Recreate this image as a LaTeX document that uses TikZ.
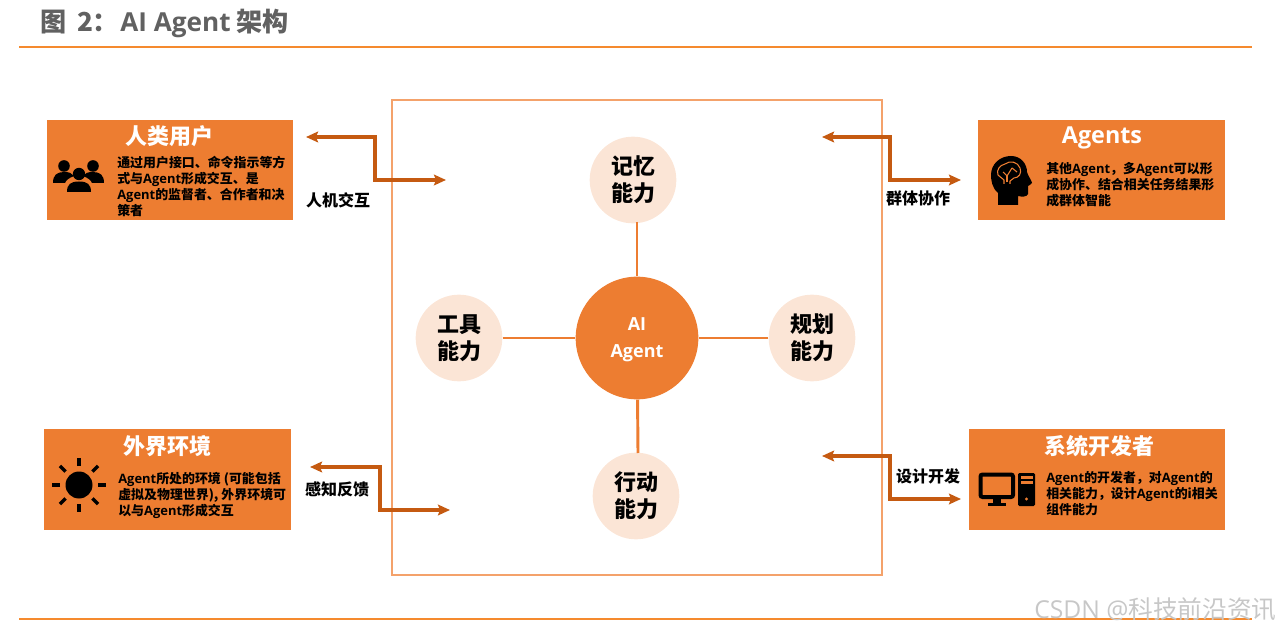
\documentclass[tikz,border=0pt]{standalone}
\usepackage{xcolor}
\usepackage{fontspec}
\usetikzlibrary{arrows.meta}
\setmainfont{Noto Sans CJK SC}
\newfontfamily\opensans{Open Sans}
\newcommand{\Ag}{{\opensans\bfseries Agent}}
\definecolor{boxorange}{HTML}{ED7D31}
\definecolor{linkbrown}{HTML}{C55A11}
\definecolor{ruleorange}{HTML}{F58A2E}
\definecolor{framepeach}{HTML}{F4A26B}
\definecolor{softpeach}{HTML}{FBE5D6}
\tikzset{
  infobox/.style={fill=boxorange, draw=none, inner sep=0},
  boxhead/.style={text=white, font=\fontsize{16.5}{18}\selectfont\bfseries},
  boxtext/.style={anchor=west, align=left, inner sep=0, font=\fontsize{9.7}{12}\selectfont\bfseries},
  ability/.style={circle, fill=softpeach, minimum size=65pt, inner sep=0, align=center,
    font=\fontsize{16.5}{20}\selectfont\bfseries},
  spoke/.style={draw=boxorange, line width=2.2pt},
  linkarrow/.style={{Stealth[length=9pt,width=8pt,inset=1.5pt]}-{Stealth[length=9pt,width=8pt,inset=1.5pt]}, draw=linkbrown, line width=2.6pt},
  linklabel/.style={inner sep=0, font=\fontsize{12}{14}\selectfont\bfseries}
}
\begin{document}
\begin{tikzpicture}[x=0.75pt, y=-0.75pt]
\useasboundingbox (0,0) rectangle (1280,630);

% title and rules
\node[anchor=west, inner sep=0, text=black!62, font=\fontsize{19.6}{22}\selectfont\bfseries] (title) at (40,23) {图\hspace{8pt}2：\hspace{1pt}{\opensans\bfseries AI Agent} 架构};
\draw[ruleorange, line width=2.2pt] (19,47)--(1252,47);
\draw[ruleorange, line width=2.2pt] (19,619)--(1252,619);

% frame
\draw[framepeach, line width=2.2pt] (392,100) rectangle (882,575);

% centre
\node[circle, fill=boxorange, minimum size=92pt, inner sep=0] (core) at (637,338) {};
\node[align=center, inner sep=0, text=white, font=\fontsize{13.5}{19.5}\selectfont] (corelabel) at (637,340) {\opensans\bfseries AI\\[1pt]\opensans\bfseries Agent};
\node[ability] (memory) at (633,180) {记忆\\能力};
\node[ability] (tool) at (459,338) {工具\\能力};
\node[ability] (plan) at (812,338) {规划\\能力};
\node[ability] (action) at (636,496) {行动\\能力};
\coordinate (m1) at (637,222);
\coordinate (n2) at (638,453);
\draw[spoke] (m1)--(core);
\draw[spoke] (n2)--(core);
\draw[spoke] (tool)--(core);
\draw[spoke] (plan)--(core);

% boxes
\node[infobox, minimum width=184.5pt, minimum height=75pt] (user) at (170,170) {};
\node[infobox, minimum width=185.25pt, minimum height=75pt] (agents) at (1101.5,170) {};
\node[infobox, minimum width=185.25pt, minimum height=75.75pt] (world) at (167.5,479.5) {};
\node[infobox, minimum width=192pt, minimum height=75.75pt] (dev) at (1097,479.5) {};

\node[boxhead] (userhead) at (169,136) {人类用户};
\node[boxhead, font=\fontsize{17.5}{18}\selectfont\bfseries] (agentshead) at (1102,138) {{\opensans\bfseries Agents}};
\node[boxhead] (worldhead) at (167,446) {外界环境};
\node[boxhead] (devhead) at (1099,446) {系统开发者};

\node[boxtext] (usertext) at (117,186) {通过用户接口、命令指示等方\\式与\Ag{}形成交互、是\\\Ag{}的监督者、合作者和决\\策者};
\node[boxtext] (agentstext) at (1046,185) {其他\Ag{}，多\Ag{}可以形\\成协作、结合相关任务结果形\\成群体智能};
\node[boxtext] (worldtext) at (118,495) {\Ag{}所处的环境 (可能包括\\虚拟及物理世界), 外界环境可\\以与\Ag{}形成交互};
\node[boxtext] (devtext) at (1046,494) {\Ag{}的开发者，对\Ag{}的\\相关能力，设计\Ag{}的i相关\\组件能力};

% arrows
\coordinate (a1) at (306,137);
\coordinate (a2) at (446,180);
\coordinate (b1) at (822,137);
\coordinate (b2) at (961,180);
\coordinate (c1) at (310,467);
\coordinate (c2) at (450,510);
\coordinate (d1) at (822,456);
\coordinate (d2) at (961,499);
\draw[linkarrow] (a1)--(375,137)--(375,180)--(a2);
\draw[linkarrow] (b1)--(890,137)--(890,180)--(b2);
\draw[linkarrow] (c1)--(380,467)--(380,510)--(c2);
\draw[linkarrow] (d1)--(890,456)--(890,499)--(d2);

\node[linklabel] (alabel) at (338,200) {人机交互};
\node[linklabel] (blabel) at (918,198) {群体协作};
\node[linklabel] (clabel) at (337,489) {感知反馈};
\node[linklabel] (dlabel) at (928,476) {设计开发};

% people icon
\begin{scope}
\fill (64,166) circle (5.8);
\fill (93,166) circle (5.8);
\fill (53,183) .. controls (53,175) and (57,172) .. (64,172) .. controls (69,172) and (72,173) .. (74,176) .. controls (69,178) and (66,180) .. (65,183) -- cycle;
\fill (104,183) .. controls (104,175) and (100,172) .. (93,172) .. controls (88,172) and (85,173) .. (83,176) .. controls (88,178) and (91,180) .. (92,183) -- cycle;
\fill (79,174) circle (6.2);
\fill (67,192) .. controls (67,184) and (71,181.5) .. (79,181.5) .. controls (87,181.5) and (91,184) .. (91,192) -- cycle;
\end{scope}

% head icon
\begin{scope}
\fill (998,205) -- (998,193) .. controls (992,188) and (991,180) .. (991,175)
  .. controls (991,164) and (1000,156) .. (1011,156)
  .. controls (1021,156) and (1027,164) .. (1027,172)
  .. controls (1028,176) and (1032,181) .. (1032,183)
  .. controls (1031,185) and (1029,185) .. (1028,186)
  -- (1028,194) .. controls (1027,197) and (1022,197) .. (1018,196) -- (1018,205) -- cycle;
\draw[boxorange, line width=0.8pt, line join=round] (1004,184) -- (1004,180) -- (998,175) .. controls (996,170) and (1000,165) .. (1005,164) .. controls (1010,160) and (1018,162) .. (1020,168) .. controls (1022,173) and (1019,178) .. (1014,178) -- (1010,181) -- (1010,184);
\draw[boxorange, line width=0.8pt] (1003,172)--(1007,176)--(1012,168);
\draw[boxorange, line width=0.8pt] (1007,176)--(1007,182);
\draw[boxorange, line width=0.8pt] (1012,168)--(1017,172);
\end{scope}

% sun icon
\begin{scope}
\fill (79,485) circle (13.5);
\foreach \ang in {0,45,...,315}
  \draw[line width=2.6pt] (79,485)++(\ang:19)--++(\ang:8);
\end{scope}

% computer icon
\begin{scope}
\draw[line width=3pt, rounded corners=1.5pt] (980.5,474.5) rectangle (1013,497);
\fill (993,498)--(1001,498)--(1001,503)--(993,503)--cycle;
\fill (988,503) rectangle (1006,506);
\fill[rounded corners=1pt] (1018,473) rectangle (1035,506);
\fill[boxorange] (1020.5,476) rectangle (1032.5,478.5);
\fill[boxorange] (1020.5,481) rectangle (1032.5,483.5);
\fill[boxorange] (1026.5,499) circle (1.7);
\end{scope}

% watermark
\node[anchor=west, inner sep=0, text=black!22, font=\fontsize{18.5}{20}\selectfont] (mark) at (1034,609) {{\opensans CSDN @}科技前沿资讯};

\end{tikzpicture}
\end{document}
